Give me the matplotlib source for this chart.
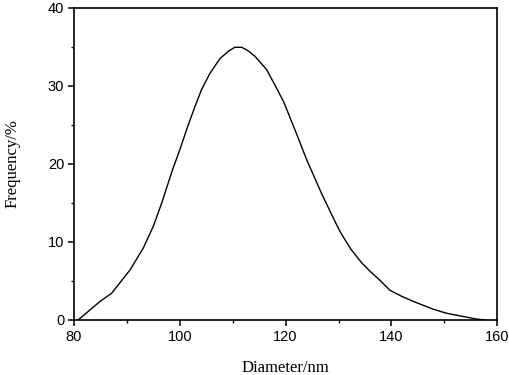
import matplotlib.pyplot as plt
from matplotlib.ticker import MultipleLocator

# Data
diameter = [80.8, 84.9, 87.1, 90.6, 93.1, 95.0, 96.6, 98.5, 100.0, 101.6,
            102.9, 104.1, 105.7, 107.6, 109.2, 110.4, 111.7, 112.8,
            114.2, 116.4, 118.3, 119.6, 120.5, 122.1, 124.0, 126.8, 128.7,
            130.3, 132.3, 134.4, 136.0, 137.8, 139.7, 142.0, 144.2, 147.9,
            150.4, 153.6, 156.1, 157.8]
frequency = [0.0, 2.35, 3.4, 6.4, 9.2, 12.0, 15.0, 19.0, 21.8, 25.0,
             27.4, 29.5, 31.6, 33.5, 34.45, 34.95, 34.95, 34.55,
             33.8, 32.1, 29.7, 28.0, 26.5, 23.8, 20.5, 16.2, 13.5,
             11.3, 9.1, 7.3, 6.2, 5.1, 3.8, 3.0, 2.35, 1.37,
             0.85, 0.43, 0.1, 0.0]

fig = plt.figure(figsize=(5.1, 3.75), dpi=100)
ax = fig.add_axes([0.145, 0.147, 0.83, 0.832])

ax.plot(diameter, frequency, color='black', lw=1.0)

ax.set_xlim(80, 160)
ax.set_ylim(0, 40)
ax.xaxis.set_major_locator(MultipleLocator(20))
ax.xaxis.set_minor_locator(MultipleLocator(10))
ax.yaxis.set_major_locator(MultipleLocator(10))
ax.yaxis.set_minor_locator(MultipleLocator(5))

for s in ax.spines.values():
    s.set_linewidth(1.2)
ax.tick_params(which='major', direction='out', length=4, width=1.1,
               labelsize=10.5, pad=3)
ax.tick_params(which='minor', direction='out', length=2.5, width=1.0)
for lab in ax.get_xticklabels() + ax.get_yticklabels():
    lab.set_fontfamily('Liberation Sans')

ax.set_xlabel('Diameter/nm', fontfamily='Liberation Serif', fontsize=12, labelpad=12)
ax.set_ylabel('Frequency/%', fontfamily='Liberation Serif', fontsize=12, labelpad=20)

fig.savefig('out.png', dpi=100)
